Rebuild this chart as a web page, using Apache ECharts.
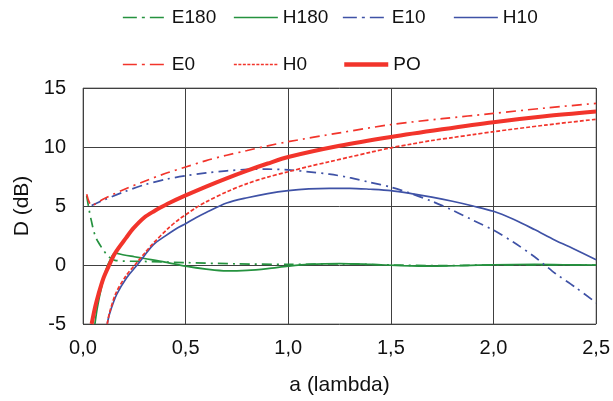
<!DOCTYPE html>
<html>
<head>
<meta charset="utf-8">
<script src="https://cdn.jsdelivr.net/npm/echarts@6/dist/echarts.min.js"></script>
<style>html,body{margin:0;padding:0;background:#fff}#c{width:613px;height:401px}</style>
</head>
<body>
<div id="c"></div>
<script>
// ---- data ----
const xTicks = [0, 0.5, 1.0, 1.5, 2.0, 2.5];
const yTicks = [-5, 0, 5, 10, 15];

const E180_a = [0.018, 0.04, 0.07, 0.156, 0.3, 0.5, 0.75, 1.0, 1.25, 1.5, 1.75, 2.0, 2.25, 2.5];
const E180_d = [5.85, 3.8, 2.07, 0.39, 0.3, 0.2, 0.1, 0.05, 0.1, 0.0, -0.05, 0.0, 0.0, 0.0];

const H180_a = [0.058, 0.07, 0.09, 0.11, 0.13, 0.156, 0.2, 0.25, 0.3, 0.4, 0.5, 0.6, 0.7, 0.8, 0.9, 1.0, 1.1, 1.25, 1.4, 1.55, 1.7, 1.85, 2.0, 2.2, 2.35, 2.5];
const H180_d = [-5, -3.6, -1.9, -0.5, 0.35, 1.0, 0.85, 0.7, 0.55, 0.25, -0.1, -0.35, -0.5, -0.45, -0.3, -0.1, 0.05, 0.12, 0.05, -0.05, -0.1, -0.05, 0.02, 0.05, 0.02, 0.0];

const E10_a = [0.042, 0.1, 0.2, 0.3, 0.4, 0.5, 0.6, 0.7, 0.8, 0.9, 1.0, 1.1, 1.2, 1.3, 1.4, 1.5, 1.6, 1.7, 1.8, 1.9, 2.0, 2.1, 2.2, 2.25, 2.3, 2.4, 2.5];
const E10_d = [5.05, 5.5, 6.2, 6.8, 7.25, 7.56, 7.8, 7.98, 8.1, 8.12, 8.06, 7.9, 7.7, 7.4, 7.0, 6.6, 6.05, 5.4, 4.65, 3.8, 2.95, 1.9, 0.7, 0.0, -0.7, -1.9, -3.2];

const H10_a = [0.118, 0.13, 0.164, 0.212, 0.264, 0.342, 0.4, 0.456, 0.5, 0.55, 0.6, 0.7, 0.8, 0.9, 1.0, 1.1, 1.2, 1.3, 1.4, 1.5, 1.6, 1.7, 1.8, 1.9, 2.0, 2.1, 2.2, 2.3, 2.4, 2.5];
const H10_d = [-5, -4.1, -2.5, -1.1, 0.0, 1.7, 2.45, 3.1, 3.5, 4.0, 4.45, 5.25, 5.7, 6.05, 6.3, 6.45, 6.5, 6.5, 6.42, 6.3, 6.05, 5.75, 5.4, 5.0, 4.55, 3.85, 3.0, 2.1, 1.3, 0.45];

const E0_a = [0.018, 0.042, 0.1, 0.2, 0.3, 0.4, 0.5, 0.6, 0.7, 0.8, 0.9, 1.0, 1.25, 1.5, 1.75, 2.0, 2.25, 2.5];
const E0_d = [6.0, 5.05, 5.6, 6.4, 7.1, 7.75, 8.3, 8.85, 9.3, 9.7, 10.1, 10.45, 11.2, 11.9, 12.4, 12.85, 13.3, 13.7];

const H0_a = [0.118, 0.13, 0.16, 0.21, 0.26, 0.3, 0.34, 0.415, 0.47, 0.5, 0.55, 0.6, 0.7, 0.8, 0.9, 1.0, 1.1, 1.2, 1.3, 1.4, 1.5, 1.6, 1.7, 1.8, 1.9, 2.0, 2.25, 2.5];
const H0_d = [-5, -4.0, -2.4, -0.9, 0.15, 1.0, 1.8, 3.1, 3.9, 4.25, 4.85, 5.35, 6.2, 6.9, 7.45, 7.9, 8.35, 8.75, 9.15, 9.55, 9.93, 10.25, 10.55, 10.8, 11.05, 11.3, 11.85, 12.35];

const PO_a = [0.042, 0.06, 0.075, 0.1, 0.128, 0.156, 0.21, 0.245, 0.3, 0.35, 0.375, 0.42, 0.5, 0.6, 0.7, 0.8, 0.9, 1.0, 1.25, 1.5, 1.75, 2.0, 2.25, 2.5];
const PO_d = [-5, -3.5, -2.5, -1.1, 0.0, 1.0, 2.3, 3.1, 4.05, 4.6, 4.85, 5.26, 5.9, 6.65, 7.35, 8.0, 8.6, 9.15, 10.1, 10.85, 11.5, 12.1, 12.6, 13.0];

const GREEN = '#25923f', BLUE = '#3f52a6', RED = '#f2342b';
const DASHDOT = [10, 5, 2, 5];
const DASHDOT_LEG = [14, 5, 3, 5];

function pts(a, d) { return a.map((v, i) => [v, d[i]]); }

const seriesDefs = [
  { name: 'E180', a: E180_a, d: E180_d, color: GREEN, type: DASHDOT, leg: DASHDOT_LEG, width: 1.7 },
  { name: 'H180', a: H180_a, d: H180_d, color: GREEN, type: 'solid', leg: 'solid', width: 1.7 },
  { name: 'E10', a: E10_a, d: E10_d, color: BLUE, type: DASHDOT, leg: DASHDOT_LEG, width: 1.7 },
  { name: 'H10', a: H10_a, d: H10_d, color: BLUE, type: 'solid', leg: 'solid', width: 1.7 },
  { name: 'E0', a: E0_a, d: E0_d, color: RED, type: DASHDOT, leg: DASHDOT_LEG, width: 1.7 },
  { name: 'H0', a: H0_a, d: H0_d, color: RED, type: [4, 2], leg: [3, 1.5], width: 1.7 },
  { name: 'PO', a: PO_a, d: PO_d, color: RED, type: 'solid', leg: 'solid', width: 4 }
];

const legendPos = [
  [122, 8], [233, 8], [342, 8], [453, 8],
  [122, 55], [233, 55], [342, 55]
];

const chart = echarts.init(document.getElementById('c'), null, { renderer: 'canvas' });
const FONT = '"Liberation Sans", Arial, sans-serif';
const TXT = '#111';

chart.setOption({
  animation: false,
  backgroundColor: '#fff',
  textStyle: { fontFamily: FONT },
  legend: seriesDefs.map((s, i) => ({
    data: [s.name],
    left: legendPos[i][0],
    top: legendPos[i][1],
    itemWidth: 44,
    itemHeight: 14,
    padding: 0,
    itemStyle: { opacity: 0 },
    lineStyle: { type: s.leg, width: s.width === 4 ? 4.5 : 1.7 },
    textStyle: { fontSize: 19, color: TXT, fontFamily: FONT },
    selectedMode: false
  })),
  grid: { left: 83, right: 16, top: 88, bottom: 74, show: true, borderColor: '#808080', borderWidth: 1 },
  xAxis: {
    type: 'value', min: 0, max: 2.5, interval: 0.5,
    name: 'a (lambda)', nameLocation: 'middle', nameGap: 51,
    nameTextStyle: { fontSize: 21, color: TXT, fontFamily: FONT },
    axisLine: { show: false }, axisTick: { show: false },
    axisLabel: { fontSize: 20, color: TXT, margin: 14, fontFamily: FONT,
      formatter: v => xTicks.indexOf(v) >= 0 ? v.toFixed(1).replace('.', ',') : '' },
    splitLine: { show: true, lineStyle: { color: '#404040', width: 1 } }
  },
  yAxis: {
    type: 'value', min: -5, max: 15, interval: 5,
    name: 'D (dB)', nameLocation: 'middle', nameGap: 48,
    nameTextStyle: { fontSize: 21, color: TXT, fontFamily: FONT },
    axisLine: { show: false }, axisTick: { show: false },
    axisLabel: { fontSize: 20, color: TXT, margin: 17, fontFamily: FONT,
      formatter: v => yTicks.indexOf(v) >= 0 ? String(v) : '' },
    splitLine: { show: true, lineStyle: { color: '#404040', width: 1 } }
  },
  series: seriesDefs.map(s => ({
    name: s.name, type: 'line', data: pts(s.a, s.d),
    showSymbol: false, symbol: 'none', smooth: 0.3, clip: true,
    lineStyle: { color: s.color, type: s.type, width: s.width },
    itemStyle: { color: s.color },
    emphasis: { disabled: true }
  }))
});
</script>
</body>
</html>
